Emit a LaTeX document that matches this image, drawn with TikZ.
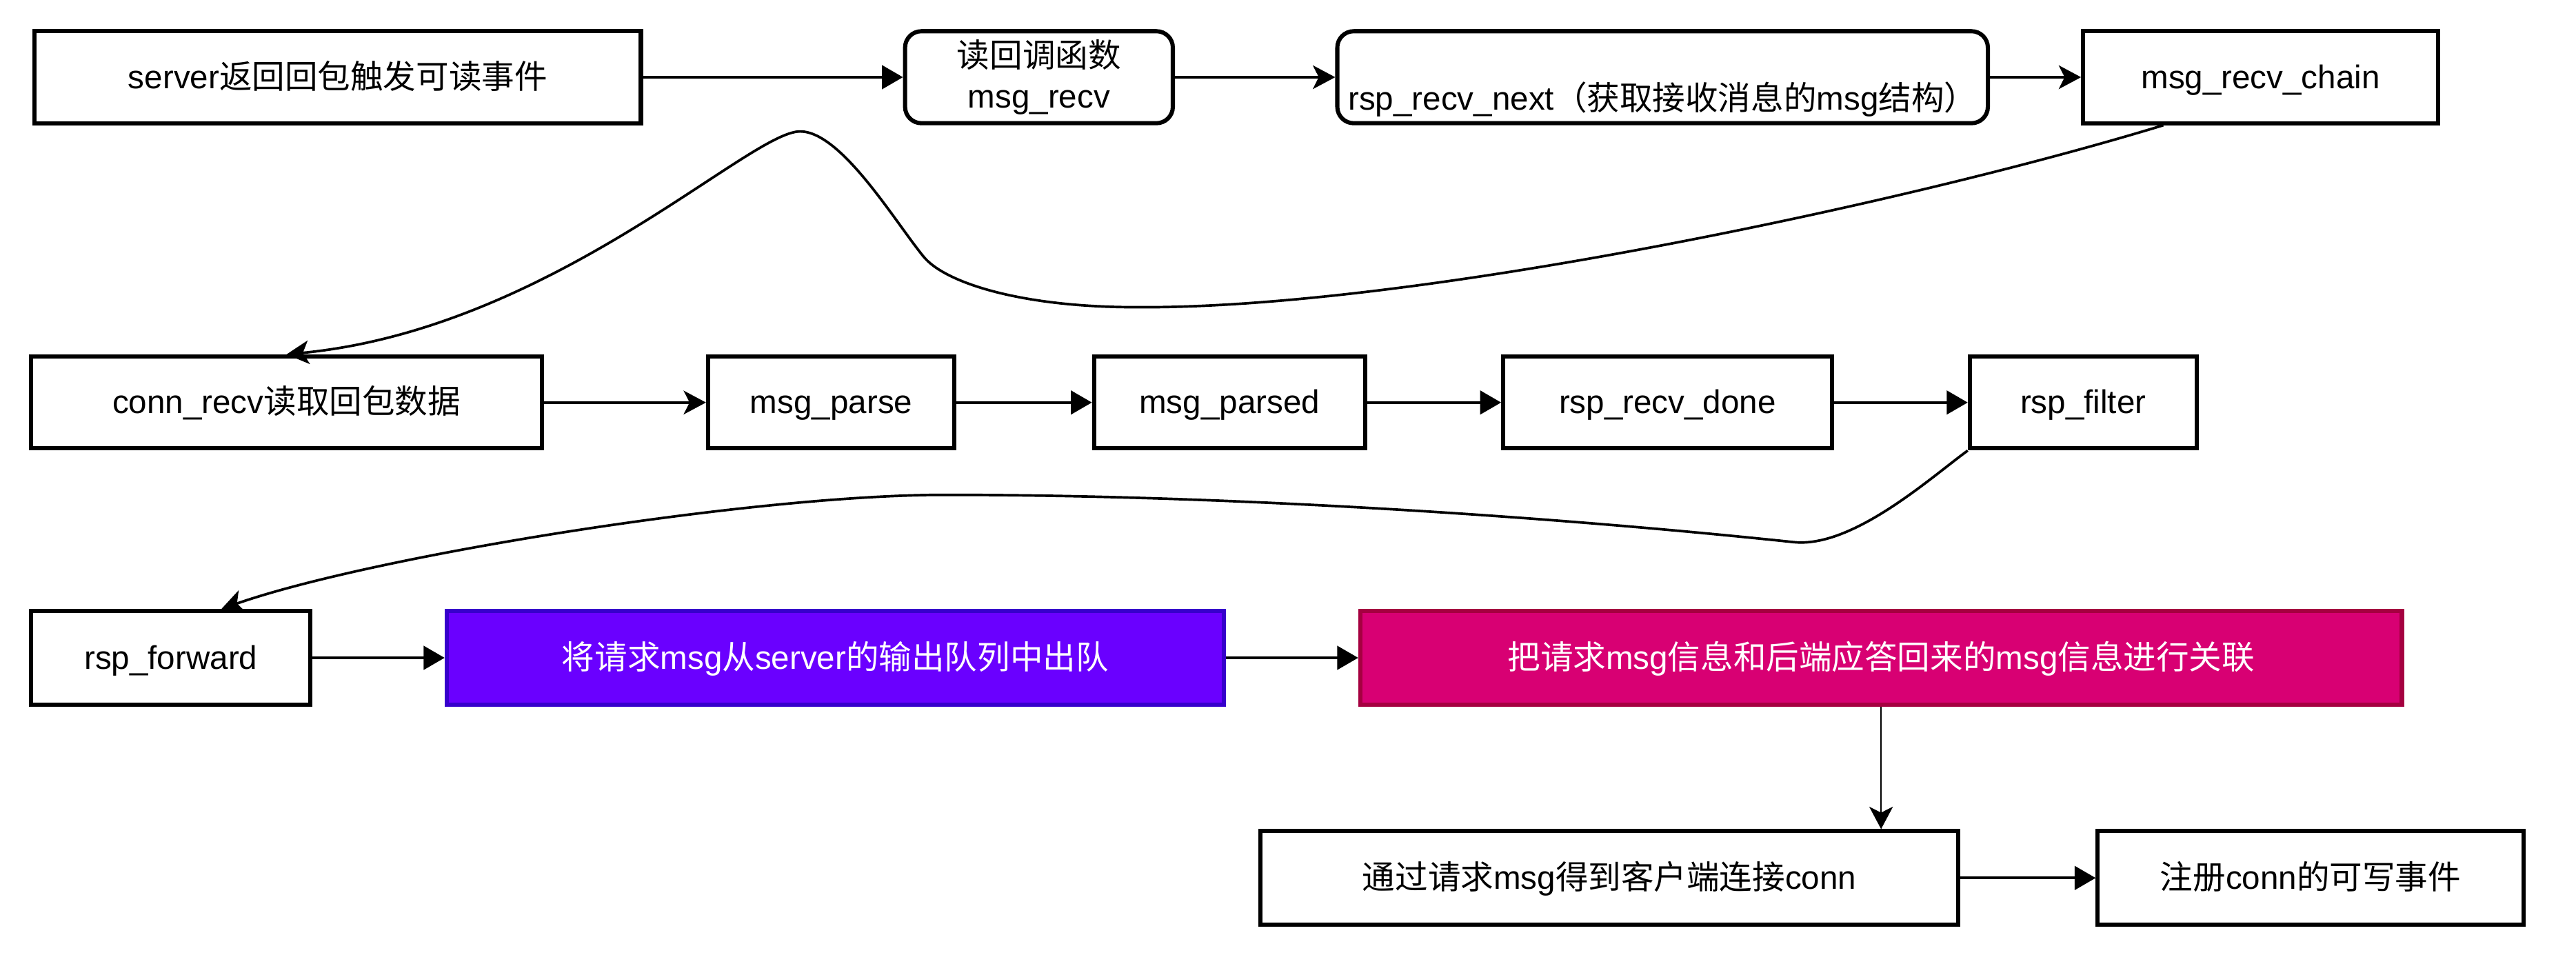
\documentclass[tikz,border=0pt]{standalone}
\usepackage{fontspec}
\setmainfont{Liberation Sans}
\newfontfamily\cjk{Noto Sans CJK SC}
\newcommand{\zh}[1]{{\cjk #1}}
\usepackage{xcolor}
\usetikzlibrary{arrows.meta, positioning, calc}
\definecolor{boxpurple}{HTML}{6A00FF}
\definecolor{edgepurple}{HTML}{3700CC}
\definecolor{boxmagenta}{HTML}{D80073}
\definecolor{edgemagenta}{HTML}{A50040}
\tikzset{every node/.append style={align=center}}
\tikzset{
  blk/.style={rectangle, draw=black, fill=white, line width=1.8pt,
    minimum height=14mm, inner sep=0pt, text centered, align=center,
    text height=1.1em, text depth=0.13em},
  rblk/.style={blk, rounded corners=2.5mm, text height=, text depth=},
  pblk/.style={blk, draw=edgepurple, fill=boxpurple, text=white},
  mblk/.style={blk, draw=edgemagenta, fill=boxmagenta, text=white},
  arrow/.style={-{Triangle[length=3.2mm, width=3.6mm]}, line width=1.1pt},
  carrow/.style={-{Stealth[length=3.4mm, width=3.6mm, inset=0.9mm]}, line width=1.1pt},
  thinarrow/.style={carrow, line width=0.6pt}
}

\begin{document}
\begin{tikzpicture}[>=Stealth, font=\fontsize{14.2pt}{17.8pt}\selectfont]
  \useasboundingbox (0,0) rectangle (392mm,-145.25mm);
  % row 1
  \node[blk, minimum width=92.25mm] (srv) at (51.4mm,-11.75mm) {server\zh{返回回包触发可读事件}};
  \node[rblk, minimum width=40.75mm] (cb) at (158.1mm,-11.75mm) {\zh{读回调函数}\\msg\_recv};
  \node[rblk, minimum width=99mm] (next) at (253mm,-11.75mm)
    {\strut\\[1pt]rsp\_recv\_next\zh{（获取接收消息的}msg\zh{结构）}};
  \node[blk, minimum width=54mm] (chain) at (344mm,-11.75mm) {msg\_recv\_chain};
  % row 2
  \node[blk, minimum width=77.75mm] (conn) at (43.6mm,-61.25mm) {conn\_recv\zh{读取回包数据}};
  \node[blk, minimum width=37.5mm] (parse) at (126.5mm,-61.25mm) {msg\_parse};
  \node[blk, minimum width=41.25mm] (parsed) at (187.1mm,-61.25mm) {msg\_parsed};
  \node[blk, minimum width=50mm] (done) at (253.75mm,-61.25mm) {rsp\_recv\_done};
  \node[blk, minimum width=34.5mm] (rspf) at (317mm,-61.25mm) {rsp\_filter};
  % row 3
  \node[blk, minimum width=42.5mm, minimum height=14.25mm] (fwd) at (26mm,-100.1mm) {rsp\_forward};
  \node[pblk, minimum width=118.25mm, minimum height=14.25mm] (deq) at (127.1mm,-100.1mm)
    {\zh{将请求}msg\zh{从}server\zh{的输出队列中出队}};
  \node[mblk, minimum width=158.5mm, minimum height=14.25mm] (link) at (286.25mm,-100.1mm)
    {\zh{把请求}msg\zh{信息和后端应答回来的}msg\zh{信息进行关联}};
  % row 4
  \node[blk, minimum width=106.25mm, minimum height=14.25mm] (cli) at (244.9mm,-133.6mm)
    {\zh{通过请求}msg\zh{得到客户端连接}conn};
  \node[blk, minimum width=64.75mm, minimum height=14.25mm] (wr) at (351.6mm,-133.6mm)
    {\zh{注册}conn\zh{的可写事件}};

  \draw[arrow] (srv) -- (cb);
  \draw[carrow] (cb) -- (next);
  \draw[carrow] (next) -- (chain);
  \draw[carrow] (conn) -- (parse);
  \draw[arrow] (parse) -- (parsed);
  \draw[arrow] (parsed) -- (done);
  \draw[arrow] (done) -- (rspf);
  \draw[arrow] (fwd) -- (deq);
  \draw[arrow] (deq) -- (link);
  \draw[arrow] (cli) -- (wr);
  \draw[thinarrow] (link.south) -- (link.south |- cli.north);

  % curved links between rows
  \coordinate (dip) at (173mm,-46.75mm);
  \coordinate (flank) at (140.5mm,-39mm);
  \coordinate (hump) at (121.75mm,-20mm);
  \draw[carrow] ([xshift=12.5mm]chain.south west)
    .. controls (290mm,-31mm) and (215mm,-47mm) .. (dip)
    .. controls (155mm,-46.75mm) and (143.6mm,-42.9mm) .. (flank)
    .. controls (136.1mm,-33.6mm) and (128mm,-20mm) .. (hump)
    .. controls (114mm,-20mm) and (84mm,-50mm) .. (conn.north);
  \coordinate (low) at (273mm,-82.5mm);
  \coordinate (top) at (143.7mm,-75.3mm);
  \draw[carrow] (rspf.south west)
    .. controls (294mm,-72.5mm) and (282mm,-83.4mm) .. (low)
    .. controls (233.2mm,-78.3mm) and (185mm,-75.3mm) .. (top)
    .. controls (115mm,-75.3mm) and (57.2mm,-84.45mm) .. ([xshift=7.7mm]fwd.north);
\end{tikzpicture}
\end{document}
